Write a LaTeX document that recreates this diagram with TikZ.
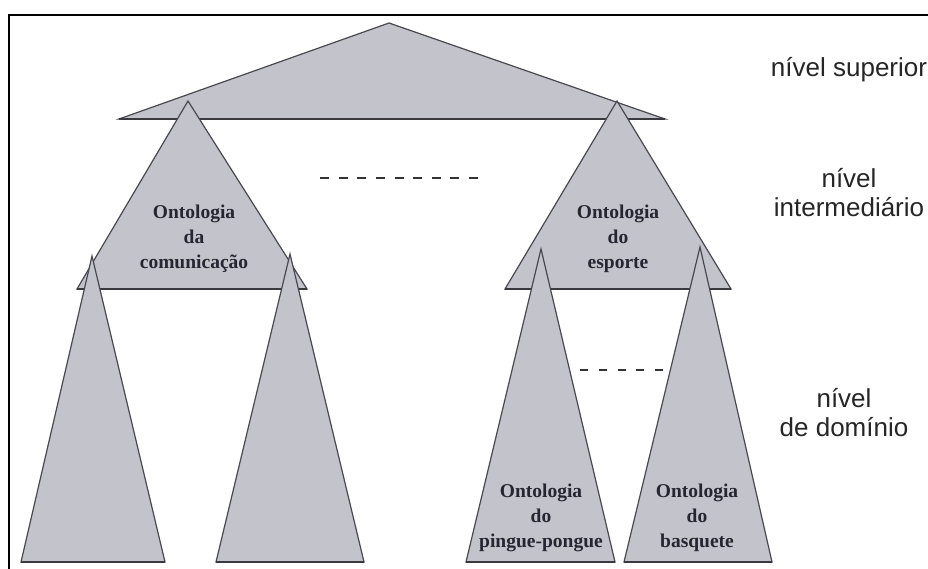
\documentclass[tikz,border=0pt]{standalone}
\usepackage{fontspec}
\setmainfont{Liberation Serif}
\newfontfamily\labelfont{Liberation Sans}
\usetikzlibrary{calc}

\definecolor{shapefill}{RGB}{195,195,203}
\definecolor{shapeline}{RGB}{72,72,78}
\definecolor{ontotext}{RGB}{38,38,50}

\tikzset{
  onto/.style={fill=shapefill, draw=shapeline, line width=1.2pt, line join=miter},
  ontobase/.style={draw=shapeline!80!black, line width=2.2pt},
  ontolabel/.style={font=\fontsize{19.5}{25}\selectfont\bfseries, text=ontotext,
    align=center, inner sep=0pt},
  levellabel/.style={font=\labelfont\fontsize{26}{29}\selectfont, text=black!85,
    align=center, inner sep=0pt},
  gapdots/.style={draw=black!80, line width=2.2pt}
}

\begin{document}
\begin{tikzpicture}[x=1pt, y=-1pt]
  \useasboundingbox (0,0) rectangle (928,568);
  \fill[white] (0,0) rectangle (928,568);

  % outer frame (runs past the right and bottom edges)
  \draw[line width=2.5pt] (9,600) -- (9,15) -- (960,15);

  % upper level ontology
  \coordinate (topApex) at (389,23);
  \coordinate (topL) at (119,119);
  \coordinate (topR) at (665,119);
  \draw[onto] (topApex) -- (topR) -- (topL) -- cycle;
  \draw[ontobase] (topL) -- (topR);

  % intermediate level ontologies
  \coordinate (comA) at (188,101);
  \coordinate (comL) at (77,289);
  \coordinate (comR) at (307,289);
  \draw[onto] (comA) -- (comR) -- (comL) -- cycle;
  \draw[ontobase] (comL) -- (comR);

  \coordinate (espA) at (617,101);
  \coordinate (espL) at (505,289);
  \coordinate (espR) at (731,289);
  \draw[onto] (espA) -- (espR) -- (espL) -- cycle;
  \draw[ontobase] (espL) -- (espR);

  % domain level ontologies
  \coordinate (d1A) at (92,256);
  \coordinate (d1L) at (21,562);
  \coordinate (d1R) at (165,562);
  \draw[onto] (d1A) -- (d1R) -- (d1L) -- cycle;
  \draw[ontobase] (d1L) -- (d1R);

  \coordinate (d2A) at (290,254);
  \coordinate (d2L) at (216,562);
  \coordinate (d2R) at (364,562);
  \draw[onto] (d2A) -- (d2R) -- (d2L) -- cycle;
  \draw[ontobase] (d2L) -- (d2R);

  \coordinate (d3A) at (541,249);
  \coordinate (d3L) at (466,562);
  \coordinate (d3R) at (615,562);
  \draw[onto] (d3A) -- (d3R) -- (d3L) -- cycle;
  \draw[ontobase] (d3L) -- (d3R);

  \coordinate (d4A) at (700,247);
  \coordinate (d4L) at (624,562);
  \coordinate (d4R) at (772,562);
  \draw[onto] (d4A) -- (d4R) -- (d4L) -- cycle;
  \draw[ontobase] (d4L) -- (d4R);

  % ellipses between siblings
  \coordinate (midDotsL) at (320,178);
  \coordinate (midDotsR) at (478,178);
  \draw[gapdots, dash pattern=on 9pt off 9.63pt] (midDotsL) -- (midDotsR);
  \coordinate (domDotsL) at (580,370);
  \coordinate (domDotsR) at (663,370);
  \draw[gapdots, dash pattern=on 8pt off 10.75pt] (domDotsL) -- (domDotsR);

  % ontology names
  \node[ontolabel] (comText) at (194,239) {Ontologia\\da\\comunicação};
  \node[ontolabel] (espText) at (618,239) {Ontologia\\do\\esporte};
  \node[ontolabel] (pingText) at (541,518) {Ontologia\\do\\pingue-pongue};
  \node[ontolabel] (basqText) at (697,518) {Ontologia\\do\\basquete};

  % level names (anchor=base sits on the last line)
  \node[levellabel, anchor=base] (lvSup) at (849,76) {nível superior};
  \node[levellabel, anchor=base] (lvInt) at (849,216) {nível\\intermediário};
  \node[levellabel, anchor=base] (lvDom) at (844,436) {nível\\de domínio};
\end{tikzpicture}
\end{document}
